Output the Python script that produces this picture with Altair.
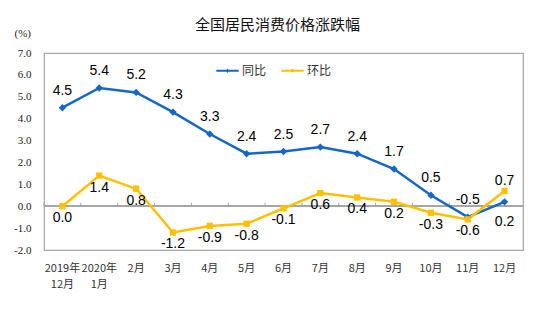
import altair as alt
import pandas as pd

categories = ["2019年\n12月", "2020年\n1月", "2月", "3月", "4月", "5月", "6月",
              "7月", "8月", "9月", "10月", "11月", "12月"]
yoy = [4.5, 5.4, 5.2, 4.3, 3.3, 2.4, 2.5, 2.7, 2.4, 1.7, 0.5, -0.5, 0.2]   # 同比
mom = [0.0, 1.4, 0.8, -1.2, -0.9, -0.8, -0.1, 0.6, 0.4, 0.2, -0.3, -0.6, 0.7]  # 环比
series_names = ["同比", "环比"]
series_colors = ["#1467C8", "#FFC000"]

rows = []
for name, vals in zip(series_names, [yoy, mom]):
    for i, (c, v) in enumerate(zip(categories, vals)):
        rows.append({"cat": c, "idx": i, "series": name, "value": v, "label": f"{v:.1f}"})
df = pd.DataFrame(rows)

last = categories[-1]
FONT_NUM = "Liberation Sans"
FONT_CJK = "Noto Sans CJK SC"
GRAY = "#A6A6A6"

xscale = alt.Scale(type="band", paddingInner=0, paddingOuter=0)
xaxis = alt.Axis(title=None, labelAngle=0, ticks=False, domain=False,
                 labelExpr="split(datum.label, '\\n')",
                 labelFont=FONT_CJK, labelFontSize=11, labelColor="#333333",
                 labelPadding=12, labelLineHeight=16)
yscale = alt.Scale(domain=[-2, 7], nice=False, zero=False)
yaxis = alt.Axis(title="(%)", titleAngle=0, titleAlign="left", titleBaseline="middle",
                 titleX=-30, titleY=-20, titleFont="Liberation Serif",
                 titleFontSize=11, titleFontWeight="normal", titleColor="#222222",
                 values=list(range(-2, 8)), grid=False, ticks=False, domain=False,
                 labelOverlap=False,
                 labelExpr="replace(format(datum.value, '.1f'), '\u2212', '-')",
                 labelFont="Liberation Serif", labelFontSize=11, labelColor="#222222",
                 labelPadding=13)

xenc = alt.X("cat:N", sort=categories, scale=xscale, axis=xaxis)
yenc = alt.Y("value:Q", scale=yscale, axis=yaxis)

base = alt.Chart(df)

zero_rule = base.mark_rule(color=GRAY, strokeWidth=1).encode(
    y=alt.YDatum(0, scale=yscale, axis=yaxis))

ticks = base.transform_filter(alt.datum.series == "同比").mark_rule(color=GRAY, strokeWidth=1).encode(
    x=alt.X("cat:N", sort=categories, bandPosition=0, scale=xscale, axis=xaxis),
    y=alt.YDatum(0, scale=yscale, axis=yaxis), y2=alt.Y2Datum(0.16))

def line(series, color):
    return base.transform_filter(alt.datum.series == series).mark_line(
        strokeWidth=2.5, color=color).encode(x=xenc, y=yenc, order="idx:Q")

line_yoy = line("同比", series_colors[0])
line_mom = line("环比", series_colors[1])

# legend symbols: a short line with the marker on it
diamond = "M-1,-0.09H1V0.09H-1Z M-0.15,0L0,-0.21L0.15,0L0,0.21Z"
square = "M-1,-0.09H1V0.09H-1Z M-0.13,-0.13H0.13V0.13H-0.13Z"
legend = alt.Legend(orient="none", legendX=172, legendY=6, direction="horizontal",
                    title=None, padding=0, symbolSize=500, symbolStrokeWidth=0,
                    symbolOpacity=1, labelFont=FONT_CJK, labelFontSize=12,
                    labelColor="#333333", labelOffset=3, columnPadding=14)
legend_layer = base.transform_filter(alt.datum.idx == 0).mark_point(filled=True, opacity=0).encode(
    x=xenc, y=yenc,
    color=alt.Color("series:N", scale=alt.Scale(domain=series_names, range=series_colors), legend=legend),
    shape=alt.Shape("series:N", scale=alt.Scale(domain=series_names, range=[diamond, square]),
                    legend=legend))

pts_yoy = base.transform_filter(alt.datum.series == "同比").mark_point(
    shape="diamond", filled=True, size=55, color=series_colors[0], opacity=1).encode(x=xenc, y=yenc)
pts_mom = base.transform_filter(alt.datum.series == "环比").mark_point(
    shape="square", filled=True, size=40, color=series_colors[1], opacity=1).encode(x=xenc, y=yenc)

def labels(series, cond, dy):
    return base.transform_filter(alt.datum.series == series).transform_filter(cond).mark_text(
        font=FONT_NUM, fontSize=14, color="#000000", dy=dy, baseline="middle").encode(
        x=xenc, y=yenc, text="label:N")

lab1 = labels("同比", alt.datum.cat != last, -17)
lab2 = labels("同比", alt.datum.cat == last, 20)
lab3 = labels("环比", alt.datum.cat != last, 12)
lab4 = labels("环比", alt.datum.cat == last, -10)

chart = alt.layer(zero_rule, ticks, line_yoy, line_mom, pts_yoy, pts_mom, legend_layer,
                  lab1, lab2, lab3, lab4).properties(
    width=479, height=197, background="white",
    title=alt.TitleParams("全国居民消费价格涨跌幅", font=FONT_CJK, fontSize=15, fontWeight="normal",
                          color="#111111", anchor="middle", offset=-6, dx=-6),
    autosize=alt.AutoSizeParams(type="none"),
    padding={"left": 36, "top": 45, "right": 10, "bottom": 50},
).configure_view(stroke=GRAY, strokeWidth=1.2)

chart.save("out.html", embed_options={"renderer": "svg", "actions": False})
